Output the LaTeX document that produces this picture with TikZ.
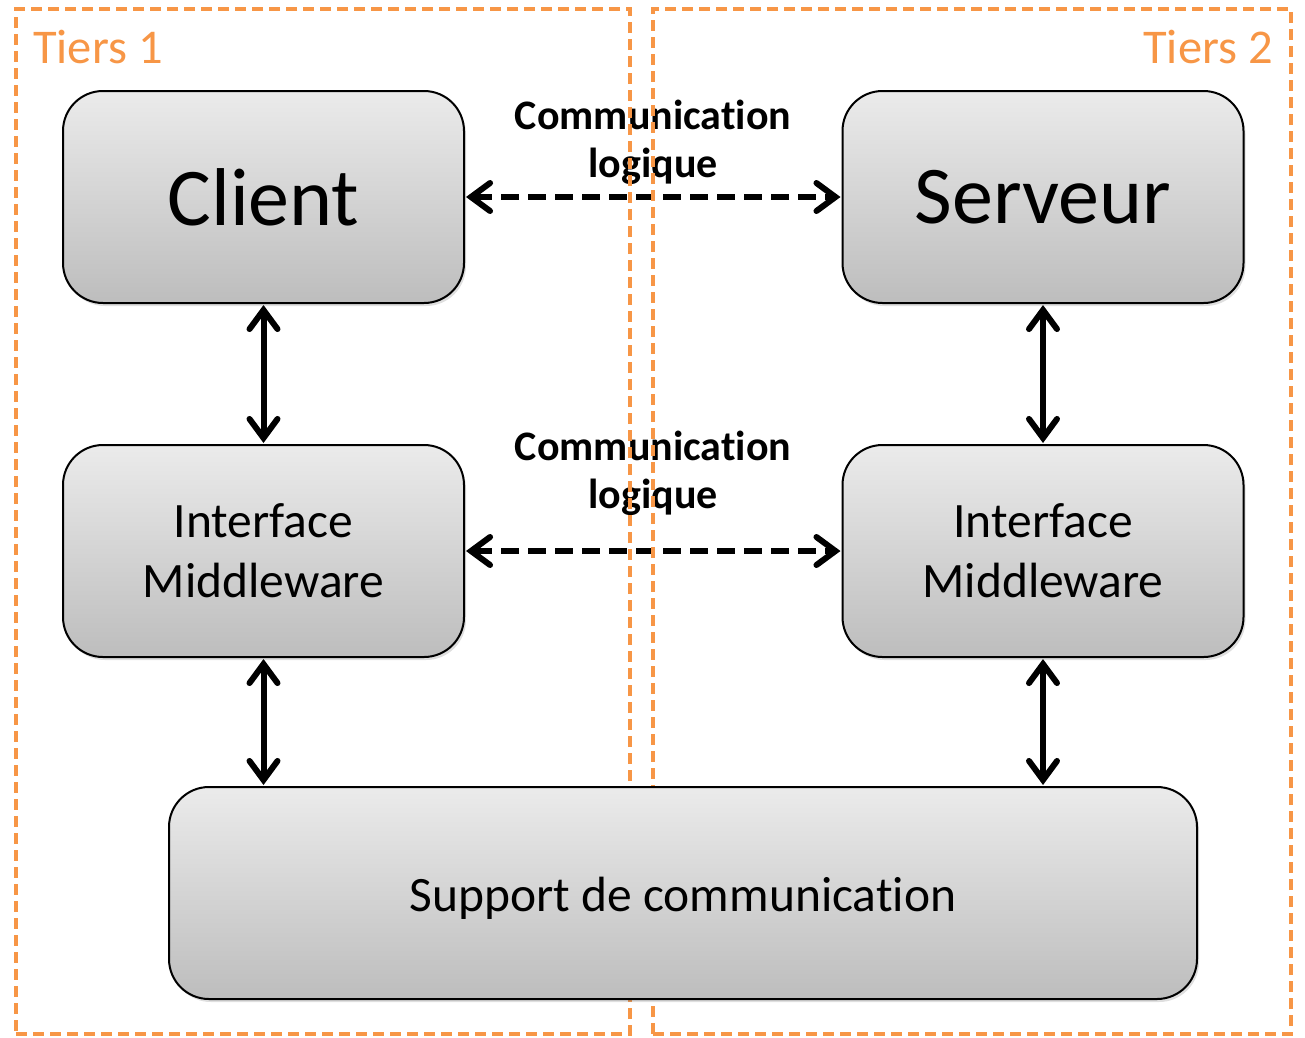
\documentclass[tikz,border=0pt]{standalone}
\usepackage{fontspec}
\setmainfont{Carlito}[RawFeature={-liga}]
\usetikzlibrary{arrows.meta,shadows}
\definecolor{tierorange}{HTML}{F79646}
\definecolor{boxtop}{HTML}{EBEBEB}
\definecolor{boxbot}{HTML}{BDBDBD}
\pgfdeclarelayer{conn}
\pgfdeclarelayer{tier}
\pgfsetlayers{conn,tier,main}
\begin{document}
\begin{tikzpicture}[x=1pt,y=-1pt,
  box/.style={draw=black, line width=2pt, rounded corners=40pt,
    top color=boxtop, bottom color=boxbot,
    minimum width=401pt, minimum height=212pt, inner sep=0pt, align=center,
    drop shadow={opacity=0.25, shadow xshift=2pt, shadow yshift=-3pt}},
  bigtxt/.style={font=\fontsize{82}{98}\selectfont},
  midtxt/.style={font=\fontsize{49.5}{60}\selectfont},
  tierbox/.style={draw=tierorange, line width=3.5pt, dash pattern=on 11pt off 6pt, inner sep=0pt},
  tierlabel/.style={text=tierorange, font=\fontsize{48.5}{58}\selectfont, inner sep=0pt},
  biarrow/.style={line width=6pt, {Straight Barb[length=19pt,width=28pt,line cap=round]}-{Straight Barb[length=19pt,width=28pt,line cap=round]}, shorten <=1pt, shorten >=1pt},
  dasharrow/.style={biarrow, dash pattern=on 18pt off 9pt},
  commlabel/.style={font=\bfseries\fontsize{42}{48}\selectfont, align=center, inner sep=0pt}
]
\useasboundingbox (0,0) rectangle (1305,1037);

\node[box, bigtxt] (client) at (263.5,197) {Client};
\node[box, bigtxt] (srv) at (1043,197) {Serveur};
\node[box, midtxt] (mw1) at (263.5,551) {Interface\\Middleware};
\node[box, midtxt] (mw2) at (1043,551) {Interface\\Middleware};
\node[box, midtxt, minimum width=1028pt] (sup) at (683,893) {\raisebox{-5pt}[\height][\depth]{Support de communication}};

\begin{pgfonlayer}{tier}
\node[tierbox, minimum width=614pt, minimum height=1025pt] (t1) at (323,521.5) {};
\node[tierbox, minimum width=638pt, minimum height=1025pt] (t2) at (972,521.5) {};
\end{pgfonlayer}
\node[tierlabel, anchor=west] (l1) at (33,47) {Tiers 1};
\node[tierlabel, anchor=east] (l2) at (1273,47) {Tiers 2};

\begin{pgfonlayer}{conn}
\draw[biarrow] (client.south) -- (mw1.north);
\draw[biarrow] (srv.south) -- (mw2.north);
\draw[biarrow] (mw1.south) -- (mw1.south |- sup.north);
\draw[biarrow] (mw2.south) -- (mw2.south |- sup.north);
\draw[dasharrow] (client.east) -- (srv.west);
\draw[dasharrow] (mw1.east) -- (mw2.west);
\node[commlabel] (c1) at (653,142) {Communication\\logique};
\node[commlabel] (c2) at (653,473) {Communication\\logique};
\end{pgfonlayer}
\end{tikzpicture}
\end{document}
